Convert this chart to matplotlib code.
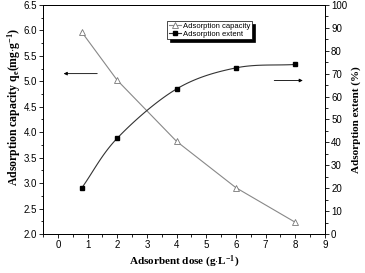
import numpy as np
import matplotlib.pyplot as plt
from matplotlib.ticker import MultipleLocator

# data
dose = [0.8, 2, 4, 6, 8]
capacity = [5.97, 5.02, 3.82, 2.91, 2.23]
extent = [20.0, 41.8, 63.3, 72.5, 74.0]

plt.rcParams['mathtext.fontset'] = 'custom'
plt.rcParams['mathtext.rm'] = 'Liberation Serif:bold'
plt.rcParams['mathtext.it'] = 'Liberation Serif:bold'
plt.rcParams['mathtext.bf'] = 'Liberation Serif:bold'


def smooth(x, y, n=30):
    """ Catmull-Rom curve through the points, used only for the drawn line. """
    x = np.asarray(x, float)
    y = np.asarray(y, float)
    px = np.concatenate([[2 * x[0] - x[1]], x, [2 * x[-1] - x[-2]]])
    py = np.concatenate([[2 * y[0] - y[1]], y, [2 * y[-1] - y[-2]]])
    xs, ys = [], []
    t = np.linspace(0, 1, n)
    for i in range(1, len(px) - 2):
        for p, out in ((px, xs), (py, ys)):
            p0, p1, p2, p3 = p[i - 1], p[i], p[i + 1], p[i + 2]
            out.extend(0.5 * (2 * p1 + (-p0 + p2) * t
                              + (2 * p0 - 5 * p1 + 4 * p2 - p3) * t ** 2
                              + (-p0 + 3 * p1 - 3 * p2 + p3) * t ** 3))
    return xs, ys


fig = plt.figure(figsize=(3.65, 2.73), dpi=100)
ax = fig.add_axes([0.118, 0.143, 0.772, 0.839])
ax2 = ax.twinx()

tick_font = {'family': 'Liberation Sans', 'size': 7}
label_font = {'family': 'Liberation Serif', 'size': 8, 'weight': 'bold'}

l1, = ax.plot(dose, capacity, color='#888888', lw=0.8, marker='^', ms=5,
              mfc='white', mec='#777777', mew=0.6, label='Adsorption capacity')
sx, sy = smooth(dose, extent)
ax2.plot(sx, sy, color='#333333', lw=0.8)
ax2.plot(dose, extent, ls='none', marker='s', ms=3.5, color='black')
l2, = ax2.plot([], [], color='#333333', lw=0.8, marker='s', ms=3.5,
               mfc='black', mec='black', label='Adsorption extent')

ax.set_xlim(-0.5, 9)
ax.set_ylim(2.0, 6.5)
ax2.set_ylim(0, 100)

ax.xaxis.set_major_locator(MultipleLocator(1))
ax.xaxis.set_minor_locator(MultipleLocator(0.5))
ax.yaxis.set_major_locator(MultipleLocator(0.5))
ax.yaxis.set_minor_locator(MultipleLocator(0.25))
ax2.yaxis.set_major_locator(MultipleLocator(10))
ax2.yaxis.set_minor_locator(MultipleLocator(5))

for a in (ax, ax2):
    a.tick_params(which='both', direction='out', width=0.6, pad=1.5)
    a.tick_params(which='major', length=3)
    a.tick_params(which='minor', length=1.8)
    for s in a.spines.values():
        s.set_linewidth(0.7)
ax.tick_params(axis='x', top=False)

ax.set_xticks(range(0, 10))
ax.set_xticklabels([str(i) for i in range(0, 10)], fontdict=tick_font)
ax.set_yticks(np.arange(2.0, 6.51, 0.5))
ax.set_yticklabels(['%.1f' % v for v in np.arange(2.0, 6.51, 0.5)], fontdict=tick_font)
ax2.set_yticks(range(0, 101, 10))
ax2.set_yticklabels([str(v) for v in range(0, 101, 10)], fontdict=tick_font)

ax.set_xlabel('Adsorbent dose (g$\\cdot$L$^{-1}$)', fontdict=label_font, labelpad=3)
ax.set_ylabel('Adsorption capacity q$_e$(mg$\\cdot$g$^{-1}$)',
              fontdict=dict(label_font, size=8.5), labelpad=2)
ax.yaxis.set_label_coords(-0.07, 0.555)
ax2.set_ylabel('Adsorption extent (%)', fontdict=label_font, labelpad=3)

# arrows pointing to each curve's axis
ax.annotate('', xy=(0.1, 5.15), xytext=(1.42, 5.15),
            arrowprops=dict(arrowstyle='-|>', color='black', lw=0.6, mutation_scale=5))
ax2.annotate('', xy=(8.35, 67), xytext=(7.2, 67),
             arrowprops=dict(arrowstyle='-|>', color='black', lw=0.6, mutation_scale=5))

leg = ax.legend(handles=[l1, l2], loc='upper left', bbox_to_anchor=(0.44, 0.93),
                prop={'family': 'Liberation Sans', 'size': 5.5}, frameon=True, fancybox=False,
                shadow={'color': 'black', 'alpha': 1}, handlelength=1.6, handletextpad=0.3,
                borderpad=0.2, labelspacing=0.1, borderaxespad=0)
leg.get_frame().set_edgecolor('black')
leg.get_frame().set_linewidth(0.5)

plt.savefig('out.png', dpi=100)
